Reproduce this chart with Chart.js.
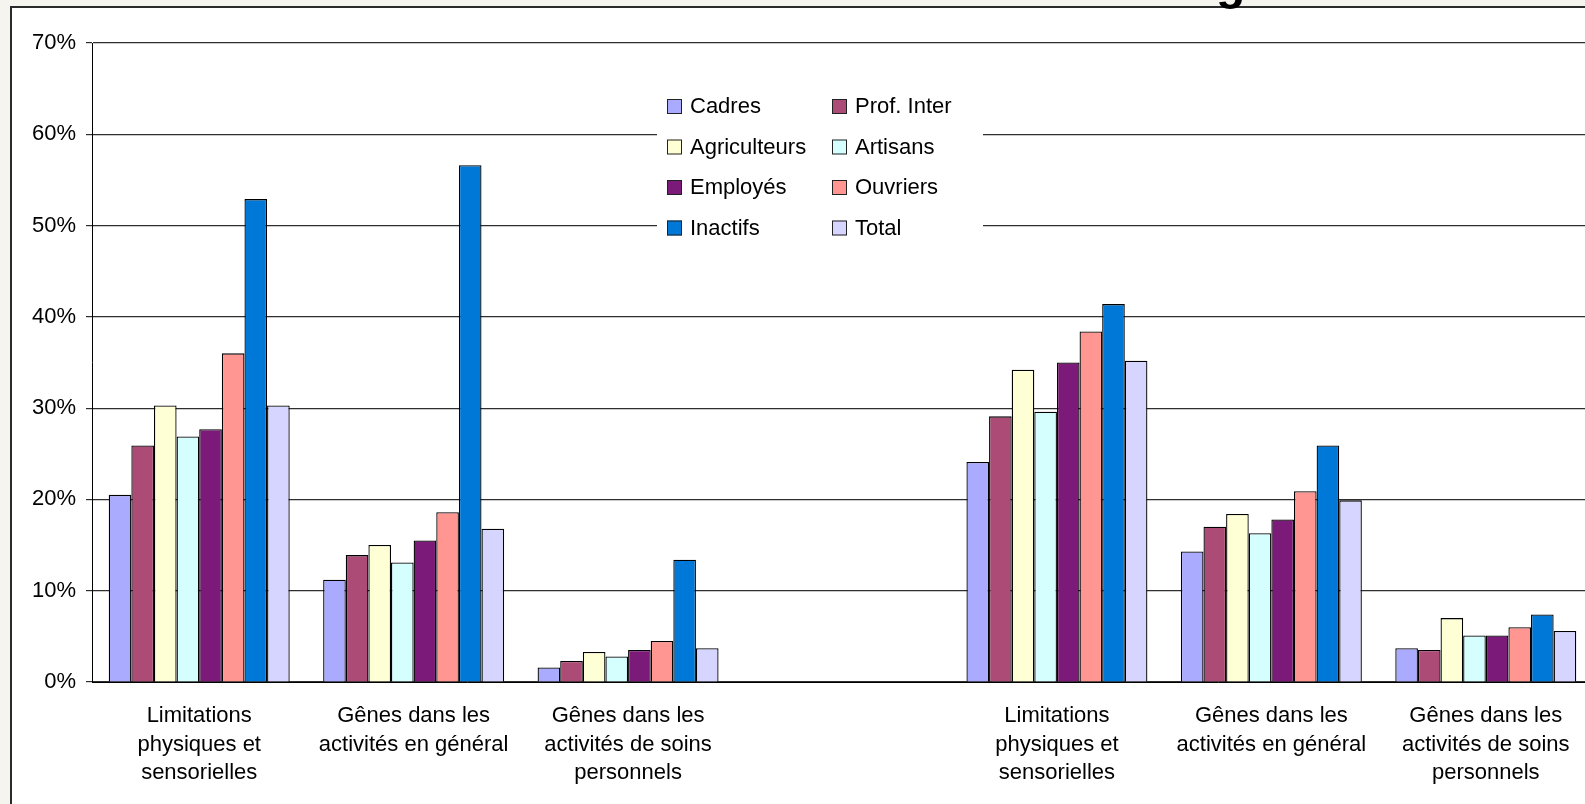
<!DOCTYPE html>
<html>
<head>
<meta charset="utf-8">
<script src="https://cdn.jsdelivr.net/npm/chart.js@4"></script>
<style>
  html, body { margin:0; padding:0; width:1585px; height:804px; overflow:hidden; background:#f5f4ef; }
  #frame { position:absolute; left:10px; top:6px; width:1700px; height:900px; border-left:2px solid #2b2b2b; border-top:2px solid #2b2b2b; background:#fff; }
  #chartWrap { position:absolute; left:0; top:0; }
  #titleFrag { position:absolute; left:1216px; top:-41px; font:bold 48px/48px "Liberation Sans", Arial, sans-serif; color:#000; z-index:5; white-space:nowrap; }
</style>
</head>
<body>
<div id="frame"></div>
<div id="titleFrag">g</div>
<div id="chartWrap"><canvas id="c" width="1593" height="804" style="width:1593px;height:804px"></canvas></div>
<script>
const categories = [
  ["Limitations", "physiques et", "sensorielles"],
  ["Gênes dans les", "activités en général"],
  ["Gênes dans les", "activités de soins", "personnels"],
  "",
  ["Limitations", "physiques et", "sensorielles"],
  ["Gênes dans les", "activités en général"],
  ["Gênes dans les", "activités de soins", "personnels"]
];
const seriesNames = ["Cadres", "Prof. Inter", "Agriculteurs", "Artisans", "Employés", "Ouvriers", "Inactifs", "Total"];
const seriesColors = ["#aaaaff", "#ab4b76", "#ffffd5", "#d5ffff", "#7b1a78", "#ff9692", "#0078d7", "#d5d5ff"];
const cadres       = [20.5, 11.2, 1.6, null, 24.1, 14.3, 3.7];
const profInter    = [25.9, 13.9, 2.3, null, 29.1, 17.0, 3.5];
const agriculteurs = [30.3, 15.0, 3.3, null, 34.2, 18.4, 7.0];
const artisans     = [26.9, 13.1, 2.8, null, 29.6, 16.3, 5.1];
const employes     = [27.7, 15.5, 3.5, null, 35.0, 17.8, 5.1];
const ouvriers     = [36.0, 18.6, 4.5, null, 38.4, 20.9, 6.0];
const inactifs     = [52.9, 56.6, 13.4, null, 41.4, 25.9, 7.4];
const total        = [30.3, 16.8, 3.7, null, 35.2, 19.9, 5.6];
const seriesValues = [cadres, profInter, agriculteurs, artisans, employes, ouvriers, inactifs, total];
const yTicks = [0, 10, 20, 30, 40, 50, 60, 70];

const FONT = '"Liberation Sans", Arial, sans-serif';

const boxLegend = {
  id: 'boxLegend',
  afterDraw(chart) {
    const ctx = chart.ctx;
    ctx.save();
    ctx.fillStyle = '#ffffff';
    ctx.fillRect(657, 86, 326, 162);
    ctx.font = '22px ' + FONT;
    ctx.textBaseline = 'middle';
    ctx.textAlign = 'left';
    chart.data.datasets.forEach((ds, i) => {
      const col = i % 2, row = Math.floor(i / 2);
      const bx = 667 + col * 165;
      const cy = 106 + row * 40.5;
      ctx.fillStyle = ds.backgroundColor;
      ctx.fillRect(bx, cy - 7, 15, 15);
      ctx.strokeStyle = '#222';
      ctx.lineWidth = 1;
      ctx.strokeRect(bx + 0.5, cy - 6.5, 14, 14);
      ctx.fillStyle = '#000';
      ctx.fillText(ds.label, bx + 23, cy + 1);
    });
    ctx.restore();
  }
};

new Chart(document.getElementById('c'), {
  type: 'bar',
  data: {
    labels: categories,
    datasets: seriesNames.map((n, i) => ({
      label: n,
      data: seriesValues[i],
      backgroundColor: seriesColors[i],
      borderColor: '#000',
      borderWidth: 1.3,
      categoryPercentage: 0.844,
      barPercentage: 1.0
    }))
  },
  options: {
    responsive: false,
    animation: false,
    layout: { padding: { left: 0, right: 0, top: 43, bottom: 0 } },
    plugins: { legend: { display: false }, tooltip: { enabled: false } },
    scales: {
      x: {
        offset: true,
        grid: { display: false },
        border: { display: true, color: '#000', width: 1 },
        ticks: { color: '#000', font: { family: FONT, size: 22, lineHeight: 1.29 }, padding: 12, maxRotation: 0, autoSkip: false },
        afterFit: s => { s.height = 122; }
      },
      y: {
        min: 0, max: 70,
        afterBuildTicks: s => { s.ticks = yTicks.map(v => ({ value: v })); },
        ticks: { color: '#000', font: { family: FONT, size: 22 }, padding: 10, callback: v => v + '%' },
        grid: { color: '#2e2e2e', lineWidth: 1.2, tickLength: 6, drawTicks: true },
        border: { display: true, color: '#000', width: 1 },
        afterFit: s => { s.width = 92; }
      }
    }
  },
  plugins: [boxLegend]
});
</script>
</body>
</html>
